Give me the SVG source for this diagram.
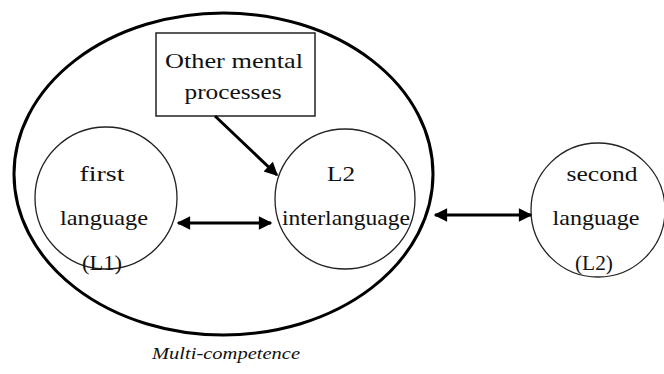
<svg xmlns="http://www.w3.org/2000/svg" width="664" height="374" viewBox="0 0 664 374">
<style>
.t{font-family:"Liberation Serif","Times New Roman",serif;font-size:21px;fill:#111;text-anchor:middle}
.c{fill:none;stroke:#222;stroke-width:1.3}
.a{stroke:#000;stroke-width:3;fill:none}
</style>
<defs>
<marker id="ah" viewBox="0 0 10 10" refX="9" refY="5" markerWidth="5" markerHeight="4.5" orient="auto-start-reverse" markerUnits="strokeWidth">
<path d="M0,0 L10,5 L0,10 z" fill="#000"/>
</marker>
</defs>
<rect width="664" height="374" fill="#fff"/>
<g id="multi-competence">
<ellipse cx="223.5" cy="174" rx="209.5" ry="161" fill="none" stroke="#000" stroke-width="3"/>
<text x="226" y="359" style="font-family:'Liberation Serif',serif;font-style:italic;font-size:17px;fill:#111;text-anchor:middle" textLength="148" lengthAdjust="spacingAndGlyphs">Multi-competence</text>
</g>
<g id="other-mental-processes">
<rect x="156" y="33" width="159" height="83" fill="#fff" stroke="#222" stroke-width="1.5"/>
<text class="t" x="234" y="68" textLength="138" lengthAdjust="spacingAndGlyphs">Other mental</text>
<text class="t" x="233" y="99" textLength="97" lengthAdjust="spacingAndGlyphs">processes</text>
</g>
<g id="first-language">
<circle class="c" cx="106" cy="198" r="71"/>
<text class="t" x="102" y="181" textLength="45" lengthAdjust="spacingAndGlyphs">first</text>
<text class="t" x="104" y="225" textLength="88" lengthAdjust="spacingAndGlyphs">language</text>
<text class="t" x="102" y="270" textLength="40" lengthAdjust="spacingAndGlyphs">(L1)</text>
</g>
<g id="l2-interlanguage">
<circle class="c" cx="345" cy="199" r="70"/>
<text class="t" x="341" y="181" textLength="28" lengthAdjust="spacingAndGlyphs">L2</text>
<text class="t" x="346" y="225" textLength="128" lengthAdjust="spacingAndGlyphs">interlanguage</text>
</g>
<g id="second-language">
<circle class="c" cx="598" cy="210" r="67"/>
<text class="t" x="602" y="181" textLength="71" lengthAdjust="spacingAndGlyphs">second</text>
<text class="t" x="596" y="225" textLength="87" lengthAdjust="spacingAndGlyphs">language</text>
<text class="t" x="594" y="270" textLength="38" lengthAdjust="spacingAndGlyphs">(L2)</text>
</g>
<g id="connectors">
<line class="a" x1="178" y1="223" x2="271" y2="223" marker-start="url(#ah)" marker-end="url(#ah)"/>
<line class="a" x1="435" y1="215" x2="531" y2="215" marker-start="url(#ah)" marker-end="url(#ah)"/>
<line class="a" x1="215" y1="116" x2="277" y2="175" stroke-width="2.5" marker-end="url(#ah)"/>
</g>
</svg>
